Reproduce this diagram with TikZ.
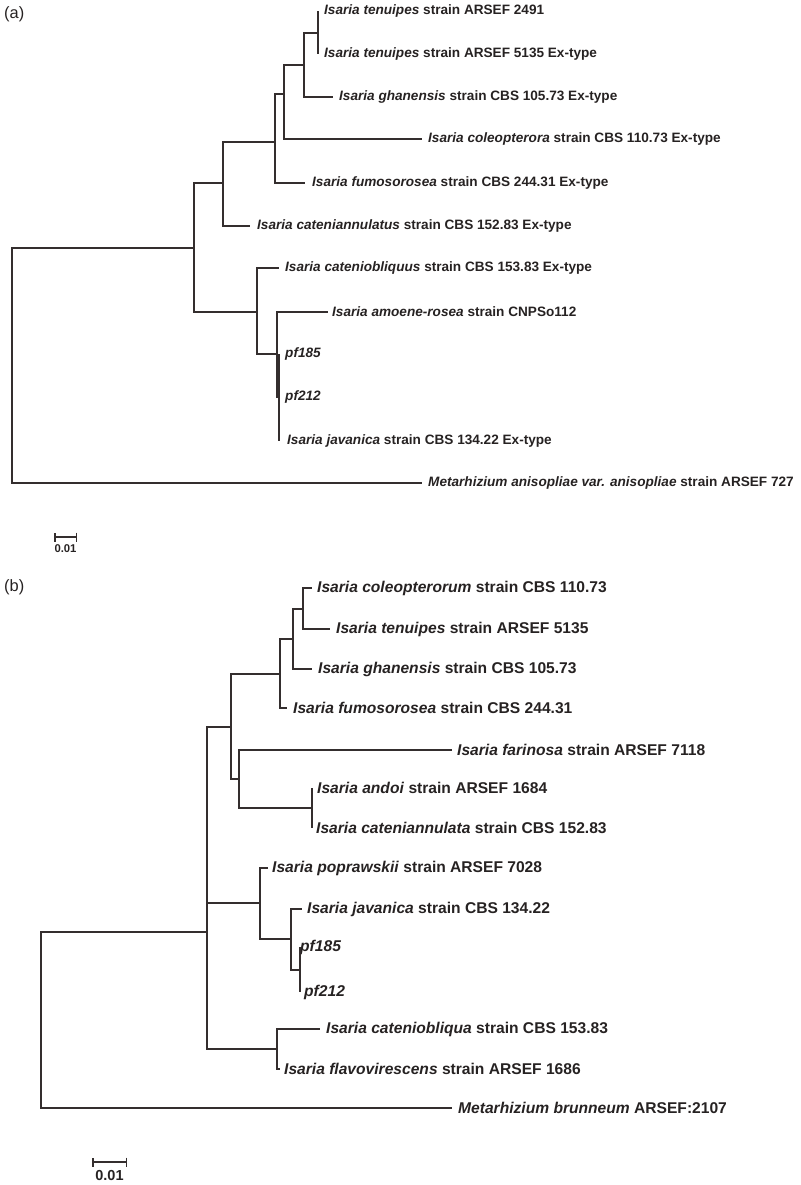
\documentclass[tikz,border=0pt]{standalone}
\usepackage{fontspec}
\setmainfont{Liberation Sans}
\usetikzlibrary{positioning, arrows.meta}
\definecolor{treeline}{RGB}{52,46,46}
\definecolor{treetext}{RGB}{38,34,34}

\begin{document}
\begin{tikzpicture}[x=1pt, y=-1pt,
    branch/.style={draw=treeline, line width=1.8pt},
    taxa/.style={font=\fontsize{13.6}{16}\selectfont\bfseries, text=treetext, inner sep=0pt},
    taxb/.style={font=\fontsize{15.6}{18}\selectfont\bfseries, text=treetext, inner sep=0pt},
    panel/.style={font=\fontsize{16.4}{19}\selectfont, text=treetext, inner sep=0pt, anchor=west},
    scalebar/.style={draw=treeline, line width=1.5pt, {Bar[width=9pt]}-{Bar[width=9pt]}}]
    \useasboundingbox (0,0) rectangle (800,1185);

    \node[panel] (pa) at (4,14) {(a)};

    \coordinate (ra) at (12,365);
    \coordinate (na1) at (194,248);
    \coordinate (na2) at (223,183);
    \coordinate (na3) at (275,142);
    \coordinate (na4) at (284,94);
    \coordinate (na5) at (304,65);
    \coordinate (na6) at (318,33);
    \coordinate (na7) at (257,312);
    \coordinate (na8) at (277,354);
    \coordinate (na9) at (279,397);

    \coordinate (ta1) at (318,11);
    \coordinate (ta2) at (318,54);
    \coordinate (ta3) at (333,97);
    \coordinate (ta4) at (422,139);
    \coordinate (ta5) at (305,183);
    \coordinate (ta6) at (250,226);
    \coordinate (ta7) at (279,268);
    \coordinate (ta8) at (328,312);
    \coordinate (ta9) at (279,354);
    \coordinate (ta10) at (279,397);
    \coordinate (ta11) at (279,441);
    \coordinate (ta12) at (422,483);

    \node[taxa, right=6pt of ta1] (la1) {\textit{Isaria tenuipes} strain ARSEF 2491};
    \node[taxa, right=6pt of ta2] (la2) {\textit{Isaria tenuipes} strain ARSEF 5135 Ex-type};
    \node[taxa, right=6pt of ta3] (la3) {\textit{Isaria ghanensis} strain CBS 105.73 Ex-type};
    \node[taxa, right=6pt of ta4] (la4) {\textit{Isaria coleopterora} strain CBS 110.73 Ex-type};
    \node[taxa, right=7pt of ta5] (la5) {\textit{Isaria fumosorosea} strain CBS 244.31 Ex-type};
    \node[taxa, right=7pt of ta6] (la6) {\textit{Isaria cateniannulatus} strain CBS 152.83 Ex-type};
    \node[taxa, right=6pt of ta7] (la7) {\textit{Isaria cateniobliquus} strain CBS 153.83 Ex-type};
    \node[taxa, right=4pt of ta8] (la8) {\textit{Isaria amoene-rosea} strain CNPSo112};
    \node[taxa, right=6pt of ta9] (la9) {\textit{pf185}};
    \node[taxa, right=6pt of ta10] (la10) {\textit{pf212}};
    \node[taxa, right=8pt of ta11] (la11) {\textit{Isaria javanica} strain CBS 134.22 Ex-type};
    \node[taxa, right=6pt of ta12] (la12) {\textit{Metarhizium anisopliae var. anisopliae} strain ARSEF 727};

    \draw[branch] (ra) |- (na1);
    \draw[branch] (ra) |- (ta12);
    \draw[branch] (na1) |- (na2);
    \draw[branch] (na1) |- (na7);
    \draw[branch] (na2) |- (na3);
    \draw[branch] (na2) |- (ta6);
    \draw[branch] (na3) |- (na4);
    \draw[branch] (na3) |- (ta5);
    \draw[branch] (na4) |- (na5);
    \draw[branch] (na4) |- (ta4);
    \draw[branch] (na5) |- (na6);
    \draw[branch] (na5) |- (ta3);
    \draw[branch] (na6) |- (ta1);
    \draw[branch] (na6) |- (ta2);
    \draw[branch] (na7) |- (ta7);
    \draw[branch] (na7) |- (na8);
    \draw[branch] (na8) |- (ta8);
    \draw[branch] (na8) |- (na9);
    \draw[branch] (na9) |- (ta9);
    \draw[branch] (na9) |- (ta11);

    \coordinate (sa1) at (54,537);
    \coordinate (sa2) at (77,537);
    \draw[scalebar] (sa1) -- (sa2);
    \node[font=\fontsize{11.3}{13}\selectfont\bfseries, text=treetext, inner sep=0pt] (sla) at (65.5,549) {0.01};

    \node[panel] (pb) at (4,587) {(b)};

    \coordinate (rb) at (41,1020);
    \coordinate (nb1) at (207,932);
    \coordinate (nb2) at (231,727);
    \coordinate (nb3) at (280,674);
    \coordinate (nb4) at (293,639);
    \coordinate (nb5) at (303,609);
    \coordinate (nb6) at (239,779);
    \coordinate (nb7) at (312,808);
    \coordinate (nb8) at (260,903);
    \coordinate (nb9) at (291,939);
    \coordinate (nb10) at (300,970);
    \coordinate (nb11) at (277,1049);

    \coordinate (tb1) at (312,588);
    \coordinate (tb2) at (330,629);
    \coordinate (tb3) at (312,669);
    \coordinate (tb4) at (287,708);
    \coordinate (tb5) at (452,750);
    \coordinate (tb6) at (312,788);
    \coordinate (tb7) at (312,828);
    \coordinate (tb8) at (268,868);
    \coordinate (tb9) at (302,909);
    \coordinate (tb10) at (300,947);
    \coordinate (tb11) at (300,992);
    \coordinate (tb12) at (320,1029);
    \coordinate (tb13) at (280,1069);
    \coordinate (tb14) at (452,1108);

    \node[taxb, right=5pt of tb1] (lb1) {\textit{Isaria coleopterorum} strain CBS 110.73};
    \node[taxb, right=6pt of tb2] (lb2) {\textit{Isaria tenuipes} strain ARSEF 5135};
    \node[taxb, right=6pt of tb3] (lb3) {\textit{Isaria ghanensis} strain CBS 105.73};
    \node[taxb, right=6pt of tb4] (lb4) {\textit{Isaria fumosorosea} strain CBS 244.31};
    \node[taxb, right=5pt of tb5] (lb5) {\textit{Isaria farinosa} strain ARSEF 7118};
    \node[taxb, right=5pt of tb6] (lb6) {\textit{Isaria andoi} strain ARSEF 1684};
    \node[taxb, right=4pt of tb7] (lb7) {\textit{Isaria cateniannulata} strain CBS 152.83};
    \node[taxb, right=4pt of tb8] (lb8) {\textit{Isaria poprawskii} strain ARSEF 7028};
    \node[taxb, right=5pt of tb9] (lb9) {\textit{Isaria javanica} strain CBS 134.22};
    \node[taxb, right=0pt of tb10] (lb10) {\textit{pf185}};
    \node[taxb, right=4pt of tb11] (lb11) {\textit{pf212}};
    \node[taxb, right=6pt of tb12] (lb12) {\textit{Isaria cateniobliqua} strain CBS 153.83};
    \node[taxb, right=4pt of tb13] (lb13) {\textit{Isaria flavovirescens} strain ARSEF 1686};
    \node[taxb, right=6pt of tb14] (lb14) {\textit{Metarhizium brunneum} ARSEF:2107};

    \draw[branch] (rb) |- (nb1);
    \draw[branch] (rb) |- (tb14);
    \draw[branch] (nb1) |- (nb2);
    \draw[branch] (nb1) |- (nb8);
    \draw[branch] (nb1) |- (nb11);
    \draw[branch] (nb2) |- (nb3);
    \draw[branch] (nb2) |- (nb6);
    \draw[branch] (nb3) |- (nb4);
    \draw[branch] (nb3) |- (tb4);
    \draw[branch] (nb4) |- (nb5);
    \draw[branch] (nb4) |- (tb3);
    \draw[branch] (nb5) |- (tb1);
    \draw[branch] (nb5) |- (tb2);
    \draw[branch] (nb6) |- (tb5);
    \draw[branch] (nb6) |- (nb7);
    \draw[branch] (nb7) |- (tb6);
    \draw[branch] (nb7) |- (tb7);
    \draw[branch] (nb8) |- (tb8);
    \draw[branch] (nb8) |- (nb9);
    \draw[branch] (nb9) |- (tb9);
    \draw[branch] (nb9) |- (nb10);
    \draw[branch] (nb10) |- (tb10);
    \draw[branch] (nb10) |- (tb11);
    \draw[branch] (nb11) |- (tb12);
    \draw[branch] (nb11) |- (tb13);

    \coordinate (sb1) at (92,1162);
    \coordinate (sb2) at (127,1162);
    \draw[scalebar] (sb1) -- (sb2);
    \node[font=\fontsize{14.5}{17}\selectfont\bfseries, text=treetext, inner sep=0pt] (slb) at (109.5,1175) {0.01};
\end{tikzpicture}
\end{document}
